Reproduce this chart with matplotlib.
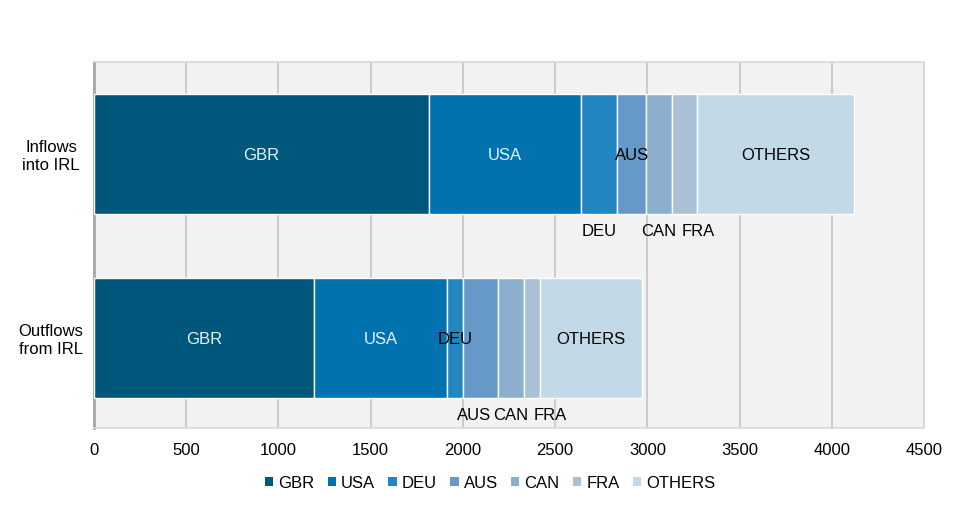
import matplotlib
matplotlib.use("Agg")
import matplotlib.pyplot as plt
from matplotlib.patches import Patch
import numpy as np

plt.rcParams['font.family'] = ['Liberation Sans', 'DejaVu Sans']

categories = ["Inflows\ninto IRL", "Outflows\nfrom IRL"]
series = ["GBR", "USA", "DEU", "AUS", "CAN", "FRA", "OTHERS"]
inflows = [1816, 824, 196, 157, 141, 135, 852]
outflows = [1193, 721, 87, 189, 141, 87, 553]
colors = ["#00577C", "#0072AE", "#2286C0", "#6699C7", "#8CAFCF", "#A9C0D6", "#C2D9E7"]
xticks = [0, 500, 1000, 1500, 2000, 2500, 3000, 3500, 4000, 4500]

# label placement: 'in' inside bar, 'below' under bar
inflow_pos = ["in", "in", "below", "in", "below", "below", "in"]
outflow_pos = ["in", "in", "in", "below", "below", "below", "in"]
label_colors = ["#E8F2FA", "#E8F2FA", "black", "black", "black", "black", "black"]
below_offsets = [{"FRA": 10}, {"AUS": -5, "FRA": 13}]

fig = plt.figure(figsize=(9.65, 5.13), dpi=100)
ax = fig.add_axes([94/965, 1-428/513, 830/965, 366/513])
ax.set_facecolor("#F2F2F2")

data = np.array([inflows, outflows])
ypos = np.arange(len(categories))
bar_h = 0.652
left = np.zeros(len(categories))
for j, name in enumerate(series):
    vals = data[:, j]
    ax.barh(ypos, vals, left=left, height=bar_h, color=colors[j],
            edgecolor="white", linewidth=1.0, zorder=3, label=name)
    for i in range(len(categories)):
        pos = inflow_pos[j] if i == 0 else outflow_pos[j]
        cx = left[i] + vals[i] / 2
        if pos == "in":
            ax.text(cx, ypos[i] + 0.01, name, ha="center", va="center", fontsize=12,
                    color=label_colors[j], zorder=5)
        else:
            ax.annotate(name, (cx, ypos[i] + bar_h / 2), xytext=(below_offsets[i].get(name, 0), -13),
                        textcoords="offset points", ha="center", va="center",
                        fontsize=12, color="black", zorder=5)
    left = left + vals

ax.set_ylim(1.49, -0.5)
ax.set_xlim(0, 4500)
ax.set_xticks(xticks)
ax.set_xticklabels([str(t) for t in xticks], fontsize=12)
ax.set_yticks(ypos)
ax.set_yticklabels(categories, fontsize=12, ha="center")
ax.tick_params(axis="y", length=0, pad=31)
ax.tick_params(axis="x", length=0, pad=11)
ax.grid(axis="x", color="#C8C8C8", linewidth=1.3, zorder=0)
ax.set_axisbelow(True)
for s in ["top", "right", "bottom"]:
    ax.spines[s].set_color("#D9D9D9")
    ax.spines[s].set_linewidth(1.2)
ax.spines["left"].set_color("#A6A6A6")
ax.spines["left"].set_linewidth(2)

handles = [Patch(facecolor=c, edgecolor="none", label=s) for s, c in zip(series, colors)]
fig.legend(handles=handles, loc="center", bbox_to_anchor=(490/965, 1-483/513), ncol=7,
           frameon=False, fontsize=12, handlelength=0.5, handleheight=0.5,
           handletextpad=0.3, columnspacing=0.8)

fig.savefig("out.png", dpi=100, facecolor="white")
